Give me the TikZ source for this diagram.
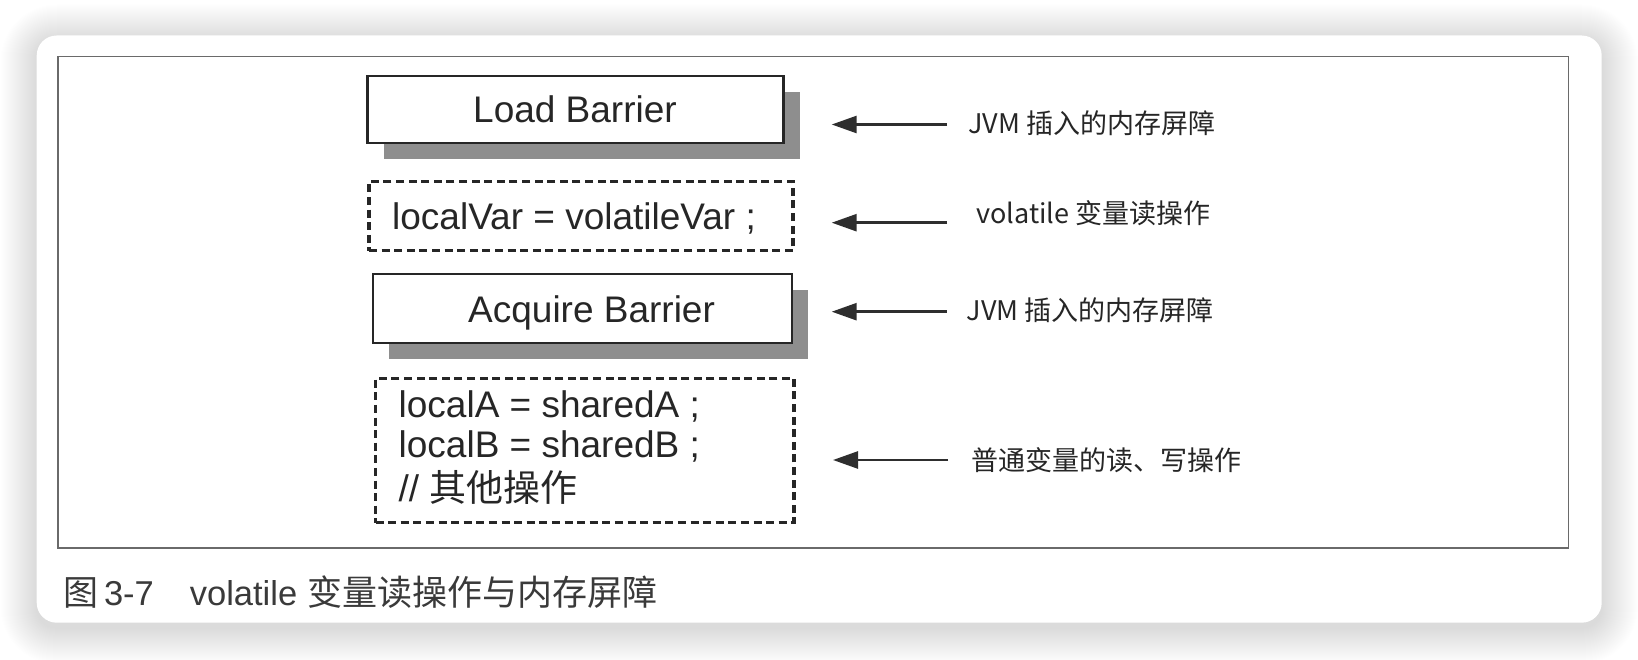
\documentclass[tikz,border=0pt]{standalone}
\usepackage{fontspec}
\setmainfont{Liberation Sans}
\newfontfamily\cjk{Noto Sans CJK SC}
\usetikzlibrary{arrows.meta,shadows}
\definecolor{shadowgray}{HTML}{8E8E8E}
\definecolor{framegray}{HTML}{6A6A6A}
\definecolor{ink}{HTML}{262626}
\definecolor{capink}{HTML}{3A3A3A}
\definecolor{arrowink}{HTML}{2E2E2E}
\begin{document}
\begin{tikzpicture}[x=1pt,y=-1pt,
  barrier/.style={draw=ink, line width=2.6pt, fill=white, inner sep=0pt,
    drop shadow={shadow xshift=16pt, shadow yshift=-16pt, fill=shadowgray, opacity=1}},
  codebox/.style={draw=ink, line width=3.4pt, dash pattern=on 8pt off 4.6pt, inner sep=0pt},
  codetext/.style={inner sep=0pt, text=ink, font=\fontsize{37}{44}\selectfont},
  note/.style={inner sep=0pt, text=ink, font=\cjk\fontsize{27}{32}\selectfont},
  arr/.style={draw=arrowink, line width=2.6pt, -{Triangle[length=25pt,width=17pt]}},
]
\useasboundingbox (0,0) rectangle (1638,660);
\fill[white] (0,0) rectangle (1638,660);
% card shadow
\foreach \i in {1,...,36}{
  \pgfmathsetmacro\rr{20+\i}
  \fill[black, opacity=0.0055, rounded corners=\rr pt] (36.7-\i,35.5-\i+5) rectangle (1601.7+\i,622.7+\i+5);
}
\fill[white, rounded corners=20pt] (36.7,35.5) rectangle (1601.7,622.7);
% frame
\draw[framegray, line width=1.5pt] (58,56.5) rectangle (1568.5,548);

% boxes
\node[barrier, minimum width=416pt, minimum height=67pt] (lb) at (575.6,109.6) {};
\node[codetext, anchor=base west] (lbt) at (473,123) {Load Barrier};

\node[codebox, minimum width=424pt, minimum height=69pt] (vv) at (581,216.2) {};
\node[codetext, anchor=base west] (vvt) at (392,229.3) {localVar = volatileVar ;};

\node[barrier, minimum width=419pt, minimum height=69pt] (ab) at (582.5,308.4) {};
\node[codetext, anchor=base west] (abt) at (468,323) {Acquire Barrier};

\node[codebox, minimum width=418.5pt, minimum height=144.4pt] (rw) at (584.75,450.5) {};
\node[codetext, anchor=base west] (rw1) at (398.5,417) {localA = sharedA ;};
\node[codetext, anchor=base west] (rw2) at (398.5,457) {localB = sharedB ;};
\node[codetext, anchor=base west] (rw3) at (398.5,501) {// {\cjk 其他操作}};

% notes
\node[note, anchor=base west] (n1) at (968,133.5) {JVM 插入的内存屏障};
\node[note, anchor=base west] (n2) at (976,223.5) {volatile 变量读操作};
\node[note, anchor=base west] (n3) at (966.4,320.5) {JVM 插入的内存屏障};
\node[note, anchor=base west] (n4) at (971.7,470.5) {普通变量的读、写操作};

% arrows
\coordinate (t1) at (831.7,124.5);
\coordinate (t2) at (831.7,222.7);
\coordinate (t3) at (831.7,311.7);
\coordinate (t4) at (833,460);
\draw[arr, shorten <=21pt] (n1.west |- t1) -- (t1);
\draw[arr, shorten <=29pt] (n2.west |- t2) -- (t2);
\draw[arr, shorten <=19.5pt] (n3.west |- t3) -- (t3);
\draw[arr, shorten <=23.7pt] (n4.west |- t4) -- (t4);

% caption
\node[anchor=base west, inner sep=0pt, text=capink, font=\fontsize{34.5}{40}\selectfont] (cap) at (62.8,605)
  {{\cjk\fontsize{35}{40}\selectfont 图}\hspace{6pt}3-7\hspace{36pt}volatile\hspace{10pt}{\cjk\fontsize{35}{40}\selectfont 变量读操作与内存屏障}};
\end{tikzpicture}
\end{document}
